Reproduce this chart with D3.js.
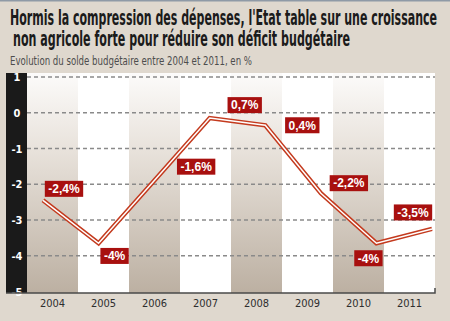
<!DOCTYPE html>
<html><head><meta charset="utf-8">
<script src="https://cdn.jsdelivr.net/npm/d3@7"></script>
<style>html,body{margin:0;padding:0;background:#dfd8ce;}svg{display:block}</style>
</head><body>
<svg id="chart" width="450" height="321"></svg>
<script>
// ---- data ----
const years = ["2004","2005","2006","2007","2008","2009","2010","2011"];
const values = [-2.45, -3.65, -1.9, -0.15, -0.35, -2.25, -3.65, -3.25];
const valueLabels = ["-2,4%","-4%","-1,6%","0,7%","0,4%","-2,2%","-4%","-3,5%"];
const yTicks = [1, 0, -1, -2, -3, -4, -5];
const titleLines = ["Hormis la compression des dépenses, l'Etat table sur une croissance",
                    " non agricole forte pour réduire son déficit budgétaire"];
const subtitle = "Evolution du solde budgétaire entre 2004 et 2011, en %";

// ---- layout (not data) ----
const labelOffsets = [[21,-11.5],[16,12.7],[42,-14],[35,-13],[37,0],[28,-10],[-8,15],[-19,-16.5]];

(function(){
const svg = d3.select("#chart");
svg.append("rect").attr("width",450).attr("height",321).attr("fill","#dfd8ce");
svg.append("rect").attr("width",450).attr("height",1.5).attr("fill","#8f9aa6");

const condensed = "'Liberation Sans Narrow','DejaVu Sans Condensed',sans-serif";
// titles
const tl = [{x:10,y:25,len:427},{x:13,y:45.5,len:337}];
titleLines.forEach((t,i)=>{
  svg.append("text").attr("x",tl[i].x).attr("y",tl[i].y)
    .attr("font-family",condensed).attr("font-weight","bold").attr("font-size",20.5)
    .attr("fill","#1b1b1b").attr("textLength",tl[i].len).attr("lengthAdjust","spacingAndGlyphs")
    .text(t.trim());
});
svg.append("text").attr("x",10).attr("y",65).attr("font-family",condensed)
  .attr("font-size",12).attr("fill","#4d4d4d").attr("textLength",242)
  .attr("lengthAdjust","spacingAndGlyphs").text(subtitle);

// scales
const x = d3.scaleBand().domain(years).range([27,435]).padding(0);
const xp = d3.scalePoint().domain(years).range([43,432]);
const y = d3.scaleLinear().domain([-5,1]).range([291.5,77]);
const plotTop = 73, plotBottom = 293;

// gradient
const defs = svg.append("defs");
const g = defs.append("linearGradient").attr("id","bandGrad").attr("x1",0).attr("y1",0).attr("x2",0).attr("y2",1);
g.append("stop").attr("offset","0%").attr("stop-color","#fcfbfa");
g.append("stop").attr("offset","35%").attr("stop-color","#e8e2db");
g.append("stop").attr("offset","100%").attr("stop-color","#bcb0a2");

svg.append("g").selectAll("rect").data(years).join("rect")
  .attr("x",d=>x(d)).attr("y",plotTop).attr("width",x.bandwidth()).attr("height",plotBottom-plotTop)
  .attr("fill",(d,i)=>i%2===0?"url(#bandGrad)":"#ffffff");

// black y bar
svg.append("rect").attr("x",6).attr("y",plotTop).attr("width",21).attr("height",plotBottom-plotTop).attr("fill","#1a1a1a");

// gridlines
svg.append("g").selectAll("line").data(yTicks.filter(d=>d>-5)).join("line")
  .attr("x1",27).attr("x2",435).attr("y1",d=>y(d)).attr("y2",d=>y(d))
  .attr("stroke","#8a8a8a").attr("stroke-width",1.5).attr("stroke-dasharray","4,3");

// y labels
svg.append("g").selectAll("text").data(yTicks).join("text")
  .attr("x",17).attr("y",d=>y(d)+4).attr("text-anchor","middle")
  .attr("font-family",condensed).attr("font-weight","bold").attr("font-size",11)
  .attr("fill","#ffffff").text(d=>d);

// axis line
svg.append("path").attr("d",`M6,${plotBottom}H435V${plotBottom-5}`).attr("fill","none")
  .attr("stroke","#4a4a4a").attr("stroke-width",1.5);

// x labels
const xAxis = d3.axisBottom(x).tickSize(0).tickPadding(0);
const xa = svg.append("g").attr("transform",`translate(0,${plotBottom+14})`).call(xAxis);
xa.select(".domain").remove();
xa.selectAll("text").attr("font-family",condensed)
  .attr("font-size",11).attr("fill","#2e2e2e").attr("dy",0);

// line
const line = d3.line().x((d,i)=>xp(years[i])).y(d=>y(d));
svg.append("path").datum(values).attr("d",line).attr("fill","none")
  .attr("stroke","#c43a1e").attr("stroke-width",4.5).attr("stroke-linejoin","miter");
svg.append("path").datum(values).attr("d",line).attr("fill","none")
  .attr("stroke","#ffffff").attr("stroke-width",1.5).attr("stroke-linejoin","miter");

// labels
const lg = svg.append("g");
values.forEach((v,i)=>{
  const cx = xp(years[i]) + labelOffsets[i][0];
  const cy = y(v) + labelOffsets[i][1];
  const t = lg.append("text").attr("x",cx).attr("y",cy+4.3).attr("text-anchor","middle")
    .attr("font-family","'Liberation Sans',Arial,sans-serif").attr("font-weight","bold")
    .attr("font-size",12).attr("fill","#ffffff").text(valueLabels[i]);
  const w = t.node().getComputedTextLength() + 7;
  lg.insert("rect","text").attr("x",cx-w/2).attr("y",cy-8).attr("width",w).attr("height",16)
    .attr("fill","#a8100f");
});
})();
</script>
</body></html>
